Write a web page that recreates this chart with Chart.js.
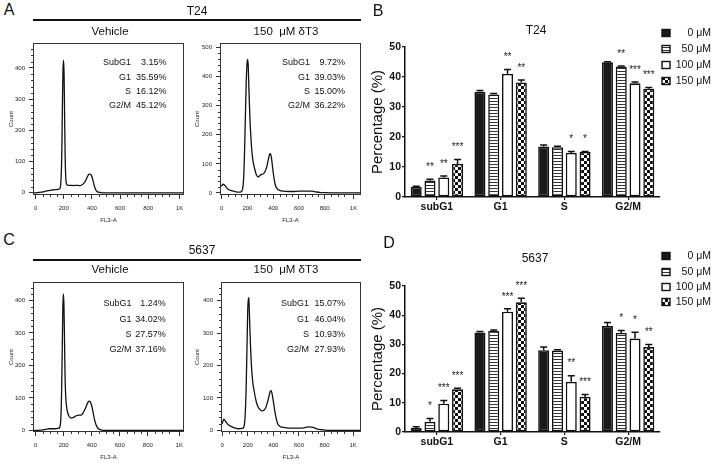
<!DOCTYPE html>
<html>
<head>
<meta charset="utf-8">
<script src="https://cdn.jsdelivr.net/npm/chart.js@4.4.1/dist/chart.umd.min.js"></script>
<style>
  html, body { margin: 0; padding: 0; background: #fff; }
  body { position: relative; width: 713px; height: 465px; overflow: hidden; font-family: 'Liberation Sans', Arial, sans-serif; color: #111; }
  canvas { position: absolute; }
  .txt { position: absolute; white-space: nowrap; line-height: 1; }
  .rule { position: absolute; height: 2px; background: #111; }
</style>
</head>
<body>
<div class="rule" style="left:33px; top:19px; width:328px"></div>
<div class="rule" style="left:33px; top:259px; width:328px"></div>
<canvas id="histA1"></canvas>
<canvas id="histA2"></canvas>
<canvas id="histC1"></canvas>
<canvas id="histC2"></canvas>
<canvas id="barB"></canvas>
<canvas id="barD"></canvas>
<script>
// histogram traces, FL3-A channel vs count
const t24VehX = [-19, 0, 20, 40, 60, 80, 100, 120, 140, 160, 172, 180, 186, 190, 194, 198, 202, 206, 210, 214, 220, 230, 250, 270, 290, 310, 330, 345, 358, 368, 378, 388, 396, 404, 412, 420, 428, 436, 446, 460, 480, 1055]
const t24VehY = [0, 0, 1, 2, 4, 6, 8, 9, 10, 11, 14, 40, 130, 270, 390, 425, 380, 240, 110, 50, 28, 24, 24, 23, 24, 23, 26, 32, 42, 52, 59, 60, 56, 46, 32, 18, 9, 4, 2, 1, 0, 0]

const t24TrtX = [-13, 0, 10, 20, 35, 50, 70, 90, 110, 130, 150, 162, 170, 177, 184, 190, 196, 201, 206, 212, 220, 230, 240, 255, 270, 285, 300, 320, 335, 350, 362, 372, 378, 385, 395, 405, 415, 430, 450, 480, 520, 560, 600, 650, 700, 730, 760, 800, 900, 1082]
const t24TrtY = [22, 25, 30, 28, 20, 13, 9, 6, 4, 3, 4, 12, 45, 130, 260, 370, 440, 460, 440, 350, 250, 170, 120, 85, 62, 55, 62, 65, 72, 90, 115, 132, 135, 125, 90, 55, 30, 15, 9, 6, 5, 5, 6, 6, 6, 4, 2, 1, 0, 0]

const c5637VehX = [-19, 0, 40, 60, 80, 100, 120, 140, 160, 172, 180, 185, 190, 194, 198, 202, 206, 210, 215, 220, 228, 240, 255, 270, 290, 310, 325, 340, 355, 368, 380, 390, 400, 410, 420, 430, 440, 455, 470, 490, 1058]
const c5637VehY = [0, 0, 1, 2, 4, 5, 5, 5, 6, 10, 40, 120, 260, 380, 420, 380, 270, 160, 100, 75, 55, 42, 38, 40, 45, 47, 47, 55, 68, 82, 90, 88, 75, 55, 33, 18, 9, 3, 1, 0, 0]

const c5637TrtX = [-10, 0, 12, 25, 40, 60, 80, 100, 130, 155, 168, 178, 186, 193, 199, 204, 208, 213, 220, 228, 238, 250, 265, 280, 296, 310, 325, 340, 352, 365, 375, 382, 390, 400, 410, 420, 432, 445, 465, 500, 550, 600, 640, 670, 700, 720, 745, 780, 820, 1085]
const c5637TrtY = [18, 22, 35, 28, 20, 14, 10, 7, 5, 6, 10, 40, 120, 250, 370, 410, 405, 350, 270, 200, 150, 120, 90, 72, 64, 60, 62, 70, 85, 105, 120, 123, 112, 88, 62, 40, 22, 14, 10, 8, 7, 7, 8, 11, 10, 8, 4, 2, 0, 0]

const phaseNames = ['SubG1', 'G1', 'S', 'G2/M']
const t24VehPct = ['3.15%', '35.59%', '16.12%', '45.12%']
const t24TrtPct = ['9.72%', '39.03%', '15.00%', '36.22%']
const c5637VehPct = ['1.24%', '34.02%', '27.57%', '37.16%']
const c5637TrtPct = ['15.07%', '46.04%', '10.93%', '27.93%']

const flTicks = [0, 200, 400, 600, 800, 1024]

// bar charts
const phases = ['subG1', 'G1', 'S', 'G2/M']
const doses = ['0 μM', '50 μM', '100 μM', '150 μM']

const t24Dose0 = [3.4, 35.1, 16.8, 44.9]
const t24Dose50 = [5.5, 34.2, 16.6, 43.5]
const t24Dose100 = [6.5, 41.0, 14.7, 37.9]
const t24Dose150 = [11.0, 38.2, 15.0, 36.1]
const t24Err0 = [0.2, 0.4, 0.5, 0.2]
const t24Err50 = [0.4, 0.3, 0.3, 0.2]
const t24Err100 = [0.5, 1.5, 0.5, 0.4]
const t24Err150 = [1.5, 0.8, 0.2, 0.4]
const t24Stars0 = ['', '', '', '']
const t24Stars50 = ['**', '', '', '**']
const t24Stars100 = ['**', '**', '*', '***']
const t24Stars150 = ['***', '**', '*', '***']

const c5637Dose0 = [1.4, 34.1, 28.0, 36.3]
const c5637Dose50 = [3.5, 34.6, 27.9, 33.9]
const c5637Dose100 = [9.7, 41.2, 17.2, 32.0]
const c5637Dose150 = [14.6, 44.4, 12.0, 29.1]
const c5637Err0 = [0.4, 0.3, 1.1, 1.2]
const c5637Err50 = [1.1, 0.3, 0.3, 0.9]
const c5637Err100 = [1.1, 1.0, 2.1, 2.2]
const c5637Err150 = [0.4, 1.4, 0.8, 0.9]
const c5637Stars0 = ['', '', '', '']
const c5637Stars50 = ['*', '', '', '*']
const c5637Stars100 = ['***', '***', '**', '*']
const c5637Stars150 = ['***', '***', '***', '**']

const plain = "'Liberation Sans', Arial, sans-serif"

Chart.defaults.animation = false
Chart.defaults.color = '#222'
Chart.defaults.font.family = plain

function text(str, x, y, size, align, extra) {
  const d = document.createElement('div')
  d.className = 'txt'
  d.textContent = str
  d.style.left = x + 'px'
  d.style.top = y + 'px'
  d.style.fontSize = size + 'px'
  d.style.transform = align === 'right' ? 'translate(-100%,-50%)' : 'translate(-50%,-50%)'
  if (extra) Object.assign(d.style, extra)
  document.body.appendChild(d)
}

function place(id, left, top, width, height) {
  const c = document.getElementById(id)
  c.width = width
  c.height = height
  c.style.left = left + 'px'
  c.style.top = top + 'px'
  return c
}

// frame + minor ticks for the flow histograms
const histFrame = {
  id: 'histFrame',
  afterDraw(chart) {
    const { ctx, chartArea: a, scales: { x, y } } = chart
    ctx.save()
    ctx.strokeStyle = '#333'
    ctx.lineWidth = 1
    ctx.strokeRect(a.left + 0.5, a.top + 0.5, a.right - a.left - 1, a.bottom - a.top - 1)
    ctx.beginPath()
    for (let v = 20; v < y.max; v += 20) {
      if (v % 100 === 0) continue
      const py = Math.round(y.getPixelForValue(v)) + 0.5
      ctx.moveTo(a.left, py)
      ctx.lineTo(a.left - 2, py)
    }
    for (let v = 50; v < 1024; v += 50) {
      if (v % 200 === 0) continue
      const px = Math.round(x.getPixelForValue(v)) + 0.5
      ctx.moveTo(px, a.bottom)
      ctx.lineTo(px, a.bottom + 2)
    }
    ctx.stroke()
    ctx.restore()
  }
}

function histogram(id, box, xs, ys, xmin, xmax, ymin, ymax, yStep, titlePad) {
  // box: [left, top, width, height, axisWidth, axisHeight, padTop, padRight]
  const [l, t, w, h, yw, xh, pt, pr] = box
  const canvas = place(id, l, t, w, h)
  const yTicks = []
  for (let v = 0; v <= ymax; v += yStep) yTicks.push({ value: v })
  return new Chart(canvas, {
    type: 'line',
    data: {
      datasets: [{
        data: xs.map((v, i) => ({ x: v, y: ys[i] })),
        borderColor: '#111',
        borderWidth: 1.3,
        pointRadius: 0,
        cubicInterpolationMode: 'monotone',
        fill: false
      }]
    },
    options: {
      responsive: false,
      layout: { padding: { top: pt, right: pr, left: 0, bottom: 0 } },
      plugins: { legend: { display: false }, tooltip: { enabled: false } },
      scales: {
        x: {
          type: 'linear', min: xmin, max: xmax,
          afterBuildTicks: s => { s.ticks = flTicks.map(v => ({ value: v })) },
          afterFit: s => { s.height = xh; s.paddingLeft = 0; s.paddingRight = 0 },
          ticks: { font: { size: 6 }, padding: 6, maxRotation: 0, callback: v => v === 1024 ? '1K' : v },
          grid: { drawOnChartArea: false, tickLength: 4, color: '#333' },
          border: { display: false },
          title: { display: true, text: 'FL3-A', font: { size: 6 }, padding: { top: 0, bottom: 4 } }
        },
        y: {
          min: ymin, max: ymax,
          afterBuildTicks: s => { s.ticks = yTicks },
          afterFit: s => { s.width = yw; s.paddingTop = 0; s.paddingBottom = 0 },
          ticks: { font: { size: 6 }, padding: 4 },
          grid: { drawOnChartArea: false, tickLength: 4, color: '#333' },
          border: { display: false },
          title: { display: true, text: 'Count', font: { size: 6 }, padding: { top: titlePad, bottom: 0 } }
        }
      }
    },
    plugins: [histFrame]
  })
}

histogram('histA1', [0, 35, 192, 193, 33, 33, 8, 8], t24VehX, t24VehY, -19, 1055, -7, 480, 100, 8)
histogram('histA2', [190, 35, 176, 193, 30, 33, 8, 5], t24TrtX, t24TrtY, -13, 1082, -7, 516, 100, 3.5)
histogram('histC1', [0, 274, 192, 191, 33, 33, 8, 8], c5637VehX, c5637VehY, -19, 1058, -5, 457, 100, 8)
histogram('histC2', [190, 274, 176, 191, 31, 33, 8, 5], c5637TrtX, c5637TrtY, -10, 1085, -5, 458, 100, 3.5)

function stats(rows, labelRight, valueRight, values) {
  phaseNames.forEach((p, i) => {
    text(p, labelRight, rows[i], 9, 'right')
    text(values[i], valueRight, rows[i], 9, 'right')
  })
}
stats([62, 77, 91, 105], 131, 166.5, t24VehPct)
stats([62, 77, 91, 105], 310, 345, t24TrtPct)
stats([303, 319, 334, 349], 131.5, 165.7, c5637VehPct)
stats([303, 319, 334, 349], 309, 345, c5637TrtPct)

// fills for the four doses
function makeFill(kind) {
  const c = document.createElement('canvas')
  const g = c.getContext('2d')
  if (kind === 'stripes') {
    c.width = 4; c.height = 3
    g.fillStyle = '#fff'; g.fillRect(0, 0, 4, 3)
    g.fillStyle = '#333'; g.fillRect(0, 0, 4, 1)
  } else {
    c.width = 6; c.height = 6
    g.fillStyle = '#fff'; g.fillRect(0, 0, 6, 6)
    g.fillStyle = '#111'; g.fillRect(0, 0, 3, 3); g.fillRect(3, 3, 3, 3)
  }
  return g.createPattern(c, 'repeat')
}
const doseFills = ['#1a1a1a', makeFill('stripes'), '#ffffff', makeFill('checker')]

const errorBars = {
  id: 'errorBars',
  afterDatasetsDraw(chart) {
    const { ctx, scales: { y } } = chart
    ctx.save()
    ctx.strokeStyle = '#111'
    ctx.lineWidth = 1.5
    ctx.fillStyle = '#222'
    ctx.font = '10px ' + plain
    ctx.textAlign = 'center'
    ctx.textBaseline = 'middle'
    chart.data.datasets.forEach((ds, i) => {
      chart.getDatasetMeta(i).data.forEach((bar, j) => {
        const top = y.getPixelForValue(ds.data[j] + ds.errors[j])
        ctx.beginPath()
        ctx.moveTo(bar.x, bar.y)
        ctx.lineTo(bar.x, top)
        ctx.moveTo(bar.x - 3.5, top)
        ctx.lineTo(bar.x + 3.5, top)
        ctx.stroke()
        if (ds.stars[j]) ctx.fillText(ds.stars[j], bar.x, top - 12)
      })
    })
    ctx.restore()
  }
}

const doseLegend = {
  id: 'doseLegend',
  afterDraw(chart, args, opts) {
    const { ctx } = chart
    ctx.save()
    ctx.font = '10.5px ' + plain
    ctx.textAlign = 'right'
    ctx.textBaseline = 'middle'
    doses.forEach((d, i) => {
      const cy = opts.rows[i]
      ctx.fillStyle = doseFills[i]
      ctx.fillRect(opts.boxX, cy - 3.5, 8, 7)
      ctx.strokeStyle = '#111'
      ctx.lineWidth = 1.4
      ctx.strokeRect(opts.boxX, cy - 3.5, 8, 7)
      ctx.fillStyle = '#111'
      ctx.fillText(d, opts.textX, cy + 0.5)
    })
    ctx.restore()
  }
}

function barChart(id, top, chartTop, chartBottom, series, errs, stars, legendRows) {
  const left = 365
  const height = chartBottom + 18 - top
  const canvas = place(id, left, top, 348, height)
  return new Chart(canvas, {
    type: 'bar',
    data: {
      labels: phases,
      datasets: doses.map((d, i) => ({
        label: d,
        data: series[i],
        errors: errs[i],
        stars: stars[i],
        backgroundColor: doseFills[i],
        borderColor: '#111',
        borderWidth: 1.6,
        borderSkipped: false,
        categoryPercentage: 0.865,
        barPercentage: 0.8
      }))
    },
    options: {
      responsive: false,
      layout: { padding: { top: chartTop - top, right: 713 - 660, left: 0, bottom: 0 } },
      plugins: {
        legend: { display: false },
        tooltip: { enabled: false },
        doseLegend: { rows: legendRows.map(v => v - top), boxX: 662 - left, textX: 711 - left }
      },
      scales: {
        x: {
          afterFit: s => { s.height = 18; s.paddingLeft = 0; s.paddingRight = 0 },
          ticks: { font: { family: plain, size: 10.5, weight: 'bold' }, color: '#111', padding: 1 },
          grid: { drawOnChartArea: false, offset: false, tickLength: 3, color: '#111', lineWidth: 1.2 },
          border: { color: '#111', width: 1.5 }
        },
        y: {
          min: 0, max: 50,
          afterFit: s => { s.width = 40; s.paddingTop = 0; s.paddingBottom = 0 },
          ticks: { stepSize: 10, font: { family: plain, size: 10.5, weight: 'bold' }, color: '#111', padding: 1 },
          grid: { drawOnChartArea: false, tickLength: 3, color: '#111', lineWidth: 1.2 },
          border: { color: '#111', width: 1.5 },
          title: { display: true, text: 'Percentage (%)', font: { family: plain, size: 15 }, color: '#111', padding: { top: 4, bottom: 0 } }
        }
      }
    },
    plugins: [errorBars, doseLegend]
  })
}

barChart('barB', 20, 47, 197,
  [t24Dose0, t24Dose50, t24Dose100, t24Dose150],
  [t24Err0, t24Err50, t24Err100, t24Err150],
  [t24Stars0, t24Stars50, t24Stars100, t24Stars150],
  [33, 49, 65, 81])
barChart('barD', 245, 286, 432,
  [c5637Dose0, c5637Dose50, c5637Dose100, c5637Dose150],
  [c5637Err0, c5637Err50, c5637Err100, c5637Err150],
  [c5637Stars0, c5637Stars50, c5637Stars100, c5637Stars150],
  [256, 272, 287, 302])

// headings
text('A', 9, 10, 16)
text('B', 378, 11, 16)
text('C', 9, 240, 16)
text('D', 389, 243, 16)
text('T24', 197, 11, 12)
text('Vehicle', 110, 32, 11.5)
text('150  μM δT3', 286, 32, 11.5, null, { whiteSpace: 'pre' })
text('5637', 202, 250, 12)
text('Vehicle', 110, 270, 11.5)
text('150  μM δT3', 286, 270, 11.5, null, { whiteSpace: 'pre' })
text('T24', 536, 30, 12)
text('5637', 535, 258, 12)
</script>
</body>
</html>
